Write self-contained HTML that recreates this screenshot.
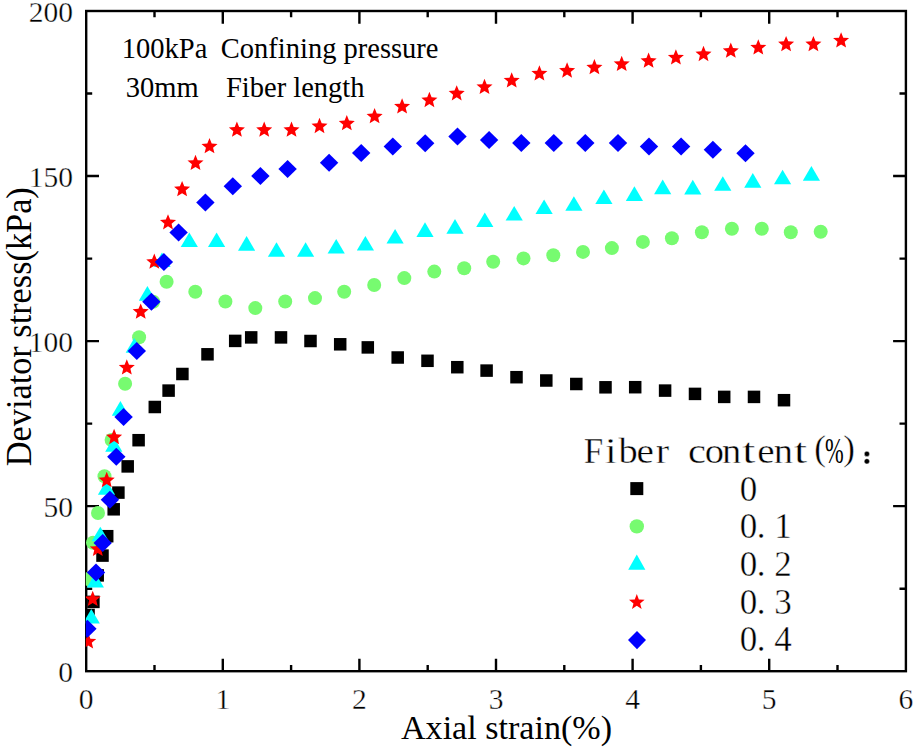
<!DOCTYPE html>
<html><head><meta charset="utf-8"><title>Deviator stress vs axial strain</title>
<style>
html,body{margin:0;padding:0;background:#fff;}
body{width:916px;height:749px;overflow:hidden;}
svg{display:block;}
.serif{font-family:"Liberation Serif",serif;}
.mono{font-family:"Liberation Mono",monospace;}
</style></head><body>
<svg width="916" height="749" viewBox="0 0 916 749">
<rect width="916" height="749" fill="#fff"/>
<defs><clipPath id="pa"><rect x="85.8" y="11" width="819.7" height="660.2"/></clipPath></defs>

<rect x="86.2" y="11" width="819.7" height="660.2" fill="none" stroke="#000" stroke-width="2.4"/>
<path d="M154.5 671.2V665M154.5 11V17.3M222.8 671.2V658.8M222.8 11V23.8M291.1 671.2V665M291.1 11V17.3M359.4 671.2V658.8M359.4 11V23.8M427.7 671.2V665M427.7 11V17.3M496 671.2V658.8M496 11V23.8M564.3 671.2V665M564.3 11V17.3M632.6 671.2V658.8M632.6 11V23.8M700.9 671.2V665M700.9 11V17.3M769.2 671.2V658.8M769.2 11V23.8M837.5 671.2V665M837.5 11V17.3M86.2 588.68H92.2M905.9 588.68H899.5M86.2 506.15H99M905.9 506.15H893.1M86.2 423.62H92.2M905.9 423.62H899.5M86.2 341.1H99M905.9 341.1H893.1M86.2 258.58H92.2M905.9 258.58H899.5M86.2 176.05H99M905.9 176.05H893.1M86.2 93.52H92.2M905.9 93.52H899.5" stroke="#000" stroke-width="2.4" fill="none"/>
<g class="serif" font-size="29.5" fill="#000" stroke="#fff" stroke-width="0.35">
<text x="86.2" y="709.3" text-anchor="middle">0</text>
<text x="222.8" y="709.3" text-anchor="middle">1</text>
<text x="359.4" y="709.3" text-anchor="middle">2</text>
<text x="496" y="709.3" text-anchor="middle">3</text>
<text x="632.6" y="709.3" text-anchor="middle">4</text>
<text x="769.2" y="709.3" text-anchor="middle">5</text>
<text x="905.8" y="709.3" text-anchor="middle">6</text>
<text x="73" y="682.2" text-anchor="end">0</text>
<text x="73" y="517.15" text-anchor="end">50</text>
<text x="73" y="352.1" text-anchor="end">100</text>
<text x="73" y="187.05" text-anchor="end">150</text>
<text x="73" y="22" text-anchor="end">200</text>
</g>
<text class="serif" font-size="34" x="401" y="738.8" textLength="211" lengthAdjust="spacingAndGlyphs">Axial strain(%)</text>
<text class="serif" font-size="35" transform="translate(30.8 466.2) rotate(-90)" x="0" y="0" textLength="279" lengthAdjust="spacingAndGlyphs">Deviator stress(kPa)</text>
<g class="serif" font-size="28.5" fill="#000">
<text x="121.8" y="57.5">100kPa</text><text x="220.8" y="57.5">Confining pressure</text>
<text x="125.8" y="96.8">30mm</text><text x="226" y="96.8">Fiber length</text>
</g>
<g clip-path="url(#pa)">
<g fill="#000"><rect x="82.3" y="608.75" width="12.5" height="12.5"/><rect x="87.15" y="595.65" width="12.5" height="12.5"/><rect x="91.45" y="569.15" width="12.5" height="12.5"/><rect x="96.25" y="549.35" width="12.5" height="12.5"/><rect x="100.95" y="529.95" width="12.5" height="12.5"/><rect x="107.45" y="503.05" width="12.5" height="12.5"/><rect x="112.15" y="486.35" width="12.5" height="12.5"/><rect x="121.45" y="460.15" width="12.5" height="12.5"/><rect x="132.35" y="433.95" width="12.5" height="12.5"/><rect x="148.55" y="400.75" width="12.5" height="12.5"/><rect x="162.35" y="384.35" width="12.5" height="12.5"/><rect x="176.15" y="367.75" width="12.5" height="12.5"/><rect x="201.25" y="348.05" width="12.5" height="12.5"/><rect x="228.95" y="334.65" width="12.5" height="12.5"/><rect x="244.95" y="331.15" width="12.5" height="12.5"/><rect x="274.75" y="331.15" width="12.5" height="12.5"/><rect x="304.25" y="334.75" width="12.5" height="12.5"/><rect x="333.95" y="338.05" width="12.5" height="12.5"/><rect x="361.55" y="341.15" width="12.5" height="12.5"/><rect x="391.45" y="351.25" width="12.5" height="12.5"/><rect x="421.25" y="354.55" width="12.5" height="12.5"/><rect x="451.05" y="360.95" width="12.5" height="12.5"/><rect x="480.35" y="364.35" width="12.5" height="12.5"/><rect x="510.25" y="370.95" width="12.5" height="12.5"/><rect x="540.05" y="374.25" width="12.5" height="12.5"/><rect x="570.05" y="377.75" width="12.5" height="12.5"/><rect x="599.25" y="381.05" width="12.5" height="12.5"/><rect x="628.95" y="380.95" width="12.5" height="12.5"/><rect x="658.85" y="384.35" width="12.5" height="12.5"/><rect x="688.75" y="387.65" width="12.5" height="12.5"/><rect x="717.95" y="390.65" width="12.5" height="12.5"/><rect x="747.75" y="390.65" width="12.5" height="12.5"/><rect x="777.75" y="393.95" width="12.5" height="12.5"/></g>
<g fill="#77fb70"><circle cx="88" cy="579" r="7"/><circle cx="93" cy="542.7" r="7"/><circle cx="98" cy="513" r="7"/><circle cx="104.5" cy="476.3" r="7"/><circle cx="111.6" cy="440" r="7"/><circle cx="125.1" cy="383.8" r="7"/><circle cx="139.1" cy="337.2" r="7"/><circle cx="153.2" cy="301.7" r="7"/><circle cx="166.6" cy="281.7" r="7"/><circle cx="195.3" cy="291.8" r="7"/><circle cx="225.4" cy="301.5" r="7"/><circle cx="255.3" cy="308.1" r="7"/><circle cx="285.2" cy="301.5" r="7"/><circle cx="315" cy="298.1" r="7"/><circle cx="344.2" cy="291.7" r="7"/><circle cx="374.2" cy="285" r="7"/><circle cx="404.3" cy="278.1" r="7"/><circle cx="434.3" cy="271.6" r="7"/><circle cx="464.2" cy="268.3" r="7"/><circle cx="493.2" cy="261.8" r="7"/><circle cx="523.5" cy="258.4" r="7"/><circle cx="553.3" cy="255.2" r="7"/><circle cx="583" cy="251.9" r="7"/><circle cx="611.9" cy="248.1" r="7"/><circle cx="642.9" cy="241.9" r="7"/><circle cx="671.9" cy="238.3" r="7"/><circle cx="701.9" cy="232.2" r="7"/><circle cx="731.9" cy="228.7" r="7"/><circle cx="761.8" cy="228.7" r="7"/><circle cx="790.8" cy="232.2" r="7"/><circle cx="820.7" cy="231.8" r="7"/></g>
<g fill="#00ffff"><path d="M91.3 609L99.9 623.6L82.7 623.6Z"/><path d="M95.35 573L103.95 587.6L86.75 587.6Z"/><path d="M100.3 526.7L108.9 541.3L91.7 541.3Z"/><path d="M106.5 480.1L115.1 494.7L97.9 494.7Z"/><path d="M113.8 437.1L122.4 451.7L105.2 451.7Z"/><path d="M120.4 401.1L129 415.7L111.8 415.7Z"/><path d="M134.3 338.1L142.9 352.7L125.7 352.7Z"/><path d="M147.4 286.1L156 300.7L138.8 300.7Z"/><path d="M162 252.4L170.6 267L153.4 267Z"/><path d="M189.3 232.5L197.9 247.1L180.7 247.1Z"/><path d="M216.6 232.5L225.2 247.1L208 247.1Z"/><path d="M246.6 236.1L255.2 250.7L238 250.7Z"/><path d="M276.5 242.2L285.1 256.8L267.9 256.8Z"/><path d="M305.6 242.2L314.2 256.8L297 256.8Z"/><path d="M336.2 238.9L344.8 253.5L327.6 253.5Z"/><path d="M365.4 235.9L374 250.5L356.8 250.5Z"/><path d="M395.1 228.9L403.7 243.5L386.5 243.5Z"/><path d="M425 222.3L433.6 236.9L416.4 236.9Z"/><path d="M455 219.1L463.6 233.7L446.4 233.7Z"/><path d="M484.8 212.4L493.4 227L476.2 227Z"/><path d="M514.2 206L522.8 220.6L505.6 220.6Z"/><path d="M544.1 199.4L552.7 214L535.5 214Z"/><path d="M573.9 196.2L582.5 210.8L565.3 210.8Z"/><path d="M603.9 189.5L612.5 204.1L595.3 204.1Z"/><path d="M634.4 186.3L643 200.9L625.8 200.9Z"/><path d="M662.7 179.6L671.3 194.2L654.1 194.2Z"/><path d="M692.8 179.8L701.4 194.4L684.2 194.4Z"/><path d="M722.8 176.2L731.4 190.8L714.2 190.8Z"/><path d="M752.8 173.1L761.4 187.7L744.2 187.7Z"/><path d="M782.6 169.7L791.2 184.3L774 184.3Z"/><path d="M811.4 166.1L820 180.7L802.8 180.7Z"/></g>
<g fill="#ff0000"><path d="M88.2 633.25L90.4 638.67L96.24 639.09L91.77 642.86L93.17 648.54L88.2 645.45L83.23 648.54L84.63 642.86L80.16 639.09L86 638.67Z"/><path d="M92.7 590.75L94.9 596.17L100.74 596.59L96.27 600.36L97.67 606.04L92.7 602.95L87.73 606.04L89.13 600.36L84.66 596.59L90.5 596.17Z"/><path d="M97.8 540.75L100 546.17L105.84 546.59L101.37 550.36L102.77 556.04L97.8 552.95L92.83 556.04L94.23 550.36L89.76 546.59L95.6 546.17Z"/><path d="M106.7 471.85L108.9 477.27L114.74 477.69L110.27 481.46L111.67 487.14L106.7 484.05L101.73 487.14L103.13 481.46L98.66 477.69L104.5 477.27Z"/><path d="M114.1 428.85L116.3 434.27L122.14 434.69L117.67 438.46L119.07 444.14L114.1 441.05L109.13 444.14L110.53 438.46L106.06 434.69L111.9 434.27Z"/><path d="M126.8 359.25L129 364.67L134.84 365.09L130.37 368.86L131.77 374.54L126.8 371.45L121.83 374.54L123.23 368.86L118.76 365.09L124.6 364.67Z"/><path d="M140.7 303.45L142.9 308.87L148.74 309.29L144.27 313.06L145.67 318.74L140.7 315.65L135.73 318.74L137.13 313.06L132.66 309.29L138.5 308.87Z"/><path d="M154.3 253.55L156.5 258.97L162.34 259.39L157.87 263.16L159.27 268.84L154.3 265.75L149.33 268.84L150.73 263.16L146.26 259.39L152.1 258.97Z"/><path d="M168 214.15L170.2 219.57L176.04 219.99L171.57 223.76L172.97 229.44L168 226.35L163.03 229.44L164.43 223.76L159.96 219.99L165.8 219.57Z"/><path d="M182.1 180.95L184.3 186.37L190.14 186.79L185.67 190.56L187.07 196.24L182.1 193.15L177.13 196.24L178.53 190.56L174.06 186.79L179.9 186.37Z"/><path d="M195.5 154.75L197.7 160.17L203.54 160.59L199.07 164.36L200.47 170.04L195.5 166.95L190.53 170.04L191.93 164.36L187.46 160.59L193.3 160.17Z"/><path d="M209.5 138.05L211.7 143.47L217.54 143.89L213.07 147.66L214.47 153.34L209.5 150.25L204.53 153.34L205.93 147.66L201.46 143.89L207.3 143.47Z"/><path d="M236.9 121.55L239.1 126.97L244.94 127.39L240.47 131.16L241.87 136.84L236.9 133.75L231.93 136.84L233.33 131.16L228.86 127.39L234.7 126.97Z"/><path d="M264.2 121.55L266.4 126.97L272.24 127.39L267.77 131.16L269.17 136.84L264.2 133.75L259.23 136.84L260.63 131.16L256.16 127.39L262 126.97Z"/><path d="M291.5 121.55L293.7 126.97L299.54 127.39L295.07 131.16L296.47 136.84L291.5 133.75L286.53 136.84L287.93 131.16L283.46 127.39L289.3 126.97Z"/><path d="M319.5 117.85L321.7 123.27L327.54 123.69L323.07 127.46L324.47 133.14L319.5 130.05L314.53 133.14L315.93 127.46L311.46 123.69L317.3 123.27Z"/><path d="M346.8 115.05L349 120.47L354.84 120.89L350.37 124.66L351.77 130.34L346.8 127.25L341.83 130.34L343.23 124.66L338.76 120.89L344.6 120.47Z"/><path d="M374.6 108.05L376.8 113.47L382.64 113.89L378.17 117.66L379.57 123.34L374.6 120.25L369.63 123.34L371.03 117.66L366.56 113.89L372.4 113.47Z"/><path d="M402.1 98.25L404.3 103.67L410.14 104.09L405.67 107.86L407.07 113.54L402.1 110.45L397.13 113.54L398.53 107.86L394.06 104.09L399.9 103.67Z"/><path d="M429.4 91.85L431.6 97.27L437.44 97.69L432.97 101.46L434.37 107.14L429.4 104.05L424.43 107.14L425.83 101.46L421.36 97.69L427.2 97.27Z"/><path d="M456.7 85.15L458.9 90.57L464.74 90.99L460.27 94.76L461.67 100.44L456.7 97.35L451.73 100.44L453.13 94.76L448.66 90.99L454.5 90.57Z"/><path d="M484.5 78.75L486.7 84.17L492.54 84.59L488.07 88.36L489.47 94.04L484.5 90.95L479.53 94.04L480.93 88.36L476.46 84.59L482.3 84.17Z"/><path d="M511.7 72.25L513.9 77.67L519.74 78.09L515.27 81.86L516.67 87.54L511.7 84.45L506.73 87.54L508.13 81.86L503.66 78.09L509.5 77.67Z"/><path d="M539.4 65.25L541.6 70.67L547.44 71.09L542.97 74.86L544.37 80.54L539.4 77.45L534.43 80.54L535.83 74.86L531.36 71.09L537.2 70.67Z"/><path d="M567.1 62.35L569.3 67.77L575.14 68.19L570.67 71.96L572.07 77.64L567.1 74.55L562.13 77.64L563.53 71.96L559.06 68.19L564.9 67.77Z"/><path d="M594.4 59.05L596.6 64.47L602.44 64.89L597.97 68.66L599.37 74.34L594.4 71.25L589.43 74.34L590.83 68.66L586.36 64.89L592.2 64.47Z"/><path d="M621.7 55.75L623.9 61.17L629.74 61.59L625.27 65.36L626.67 71.04L621.7 67.95L616.73 71.04L618.13 65.36L613.66 61.59L619.5 61.17Z"/><path d="M648.6 52.55L650.8 57.97L656.64 58.39L652.17 62.16L653.57 67.84L648.6 64.75L643.63 67.84L645.03 62.16L640.56 58.39L646.4 57.97Z"/><path d="M675.9 49.25L678.1 54.67L683.94 55.09L679.47 58.86L680.87 64.54L675.9 61.45L670.93 64.54L672.33 58.86L667.86 55.09L673.7 54.67Z"/><path d="M703.5 45.85L705.7 51.27L711.54 51.69L707.07 55.46L708.47 61.14L703.5 58.05L698.53 61.14L699.93 55.46L695.46 51.69L701.3 51.27Z"/><path d="M730.8 42.55L733 47.97L738.84 48.39L734.37 52.16L735.77 57.84L730.8 54.75L725.83 57.84L727.23 52.16L722.76 48.39L728.6 47.97Z"/><path d="M758.3 39.25L760.5 44.67L766.34 45.09L761.87 48.86L763.27 54.54L758.3 51.45L753.33 54.54L754.73 48.86L750.26 45.09L756.1 44.67Z"/><path d="M786.1 35.95L788.3 41.37L794.14 41.79L789.67 45.56L791.07 51.24L786.1 48.15L781.13 51.24L782.53 45.56L778.06 41.79L783.9 41.37Z"/><path d="M813.4 35.95L815.6 41.37L821.44 41.79L816.97 45.56L818.37 51.24L813.4 48.15L808.43 51.24L809.83 45.56L805.36 41.79L811.2 41.37Z"/><path d="M841.1 32.25L843.3 37.67L849.14 38.09L844.67 41.86L846.07 47.54L841.1 44.45L836.13 47.54L837.53 41.86L833.06 38.09L838.9 37.67Z"/></g>
<g fill="#0000ff"><path d="M87.4 619.7L96.6 628.7L87.4 637.7L78.2 628.7Z"/><path d="M96 563.4L105.2 572.4L96 581.4L86.8 572.4Z"/><path d="M102.7 534L111.9 543L102.7 552L93.5 543Z"/><path d="M109.9 490.7L119.1 499.7L109.9 508.7L100.7 499.7Z"/><path d="M116.3 447.8L125.5 456.8L116.3 465.8L107.1 456.8Z"/><path d="M123.6 408.1L132.8 417.1L123.6 426.1L114.4 417.1Z"/><path d="M136.8 342L146 351L136.8 360L127.6 351Z"/><path d="M151.4 292.7L160.6 301.7L151.4 310.7L142.2 301.7Z"/><path d="M163.9 253.1L173.1 262.1L163.9 271.1L154.7 262.1Z"/><path d="M178.6 223.4L187.8 232.4L178.6 241.4L169.4 232.4Z"/><path d="M205.4 193.6L214.6 202.6L205.4 211.6L196.2 202.6Z"/><path d="M232.8 177.2L242 186.2L232.8 195.2L223.6 186.2Z"/><path d="M260.4 167L269.6 176L260.4 185L251.2 176Z"/><path d="M287.6 160.1L296.8 169.1L287.6 178.1L278.4 169.1Z"/><path d="M329.1 153.8L338.3 162.8L329.1 171.8L319.9 162.8Z"/><path d="M361.2 144.1L370.4 153.1L361.2 162.1L352 153.1Z"/><path d="M392.8 137.5L402 146.5L392.8 155.5L383.6 146.5Z"/><path d="M425.2 134.2L434.4 143.2L425.2 152.2L416 143.2Z"/><path d="M457.5 127.6L466.7 136.6L457.5 145.6L448.3 136.6Z"/><path d="M489.1 130.9L498.3 139.9L489.1 148.9L479.9 139.9Z"/><path d="M521.3 134L530.5 143L521.3 152L512.1 143Z"/><path d="M553.8 134L563 143L553.8 152L544.6 143Z"/><path d="M585.3 134L594.5 143L585.3 152L576.1 143Z"/><path d="M618 134L627.2 143L618 152L608.8 143Z"/><path d="M649 137.5L658.2 146.5L649 155.5L639.8 146.5Z"/><path d="M681.1 137.5L690.3 146.5L681.1 155.5L671.9 146.5Z"/><path d="M712.9 140.8L722.1 149.8L712.9 158.8L703.7 149.8Z"/><path d="M745.5 144.3L754.7 153.3L745.5 162.3L736.3 153.3Z"/></g>
</g>
<g class="serif" font-size="35" fill="#000" text-anchor="middle" stroke="#fff" stroke-width="0.4">
<text transform="translate(593.5 463.3) scale(1 1)">F</text>
<text transform="translate(610.75 463.3) scale(1.2 1)">i</text>
<text transform="translate(628 463.3) scale(1.1 1)">b</text>
<text transform="translate(645.25 463.3) scale(1.12 1)">e</text>
<text transform="translate(662.5 463.3) scale(1.15 1)">r</text>
<text transform="translate(697 463.3) scale(1.15 1)">c</text>
<text transform="translate(714.25 463.3) scale(1.1 1)">o</text>
<text transform="translate(731.5 463.3) scale(1.1 1)">n</text>
<text transform="translate(748.75 463.3) scale(1.35 1)">t</text>
<text transform="translate(766 463.3) scale(1.12 1)">e</text>
<text transform="translate(783.25 463.3) scale(1.1 1)">n</text>
<text transform="translate(800.5 463.3) scale(1.35 1)">t</text>
<text x="820" y="460.4">(</text><text x="849" y="460.4">)</text>
<text transform="translate(834.4 463.3) scale(0.64 1)" stroke="none">%</text>
<circle cx="866.9" cy="453.9" r="2.6"/><circle cx="866.9" cy="461.3" r="2.6"/>
<text x="748.4" y="500.6">0</text>
<text x="748.4" y="538.3">0</text>
<text x="761.2" y="538.3">.</text>
<text x="783" y="538.3">1</text>
<text x="748.4" y="576">0</text>
<text x="761.2" y="576">.</text>
<text x="783" y="576">2</text>
<text x="748.4" y="613.7">0</text>
<text x="761.2" y="613.7">.</text>
<text x="783" y="613.7">3</text>
<text x="748.4" y="651.4">0</text>
<text x="761.2" y="651.4">.</text>
<text x="783" y="651.4">4</text>
</g>
<g fill="#000"><rect x="630.3" y="482.1" width="13" height="13"/></g>
<g fill="#77fb70"><circle cx="636.8" cy="526.4" r="7.2"/></g>
<g fill="#00ffff"><path d="M636.8 554.6L645.4 569.8L628.2 569.8Z"/></g>
<g fill="#ff0000"><path d="M636.8 594.1L638.86 599.47L644.6 599.77L640.13 603.38L641.62 608.93L636.8 605.8L631.98 608.93L633.47 603.38L629 599.77L634.74 599.47Z"/></g>
<g fill="#0000ff"><path d="M637 630.9L646 640.1L637 649.3L628 640.1Z"/></g>
</svg></body></html>
